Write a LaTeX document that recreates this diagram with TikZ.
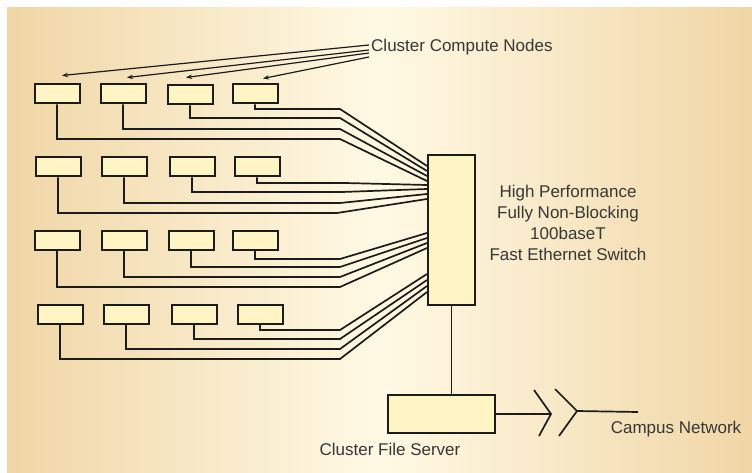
\documentclass[tikz,border=0pt]{standalone}
\usepackage{fontspec}
\setmainfont{Liberation Sans}
\usetikzlibrary{arrows.meta}

\definecolor{bgtan}{RGB}{240,214,166}
\definecolor{bgcream}{RGB}{255,249,228}
\definecolor{boxfill}{RGB}{255,245,196}
\definecolor{boxline}{RGB}{28,28,28}
\definecolor{inkgray}{RGB}{55,55,55}

\begin{document}
\begin{tikzpicture}[x=1pt, y=-1pt,
                    compute node/.style={rectangle,draw=boxline,fill=boxfill,line width=2pt,minimum width=45pt,minimum height=19pt,inner sep=0pt},
                    switch node/.style={compute node,minimum width=47pt,minimum height=150pt},
                    server node/.style={compute node,minimum width=107pt,minimum height=38pt},
                    wire/.style={draw=boxline,line width=1.7pt},
                    pointer/.style={draw=boxline,line width=1.2pt,-{Stealth[length=6pt,width=4.5pt]}},
                    label node/.style={text=inkgray,font=\fontsize{17}{21}\selectfont,inner sep=2pt}]

  \useasboundingbox (0,0) rectangle (752,473);
  \shade[left color=bgtan, right color=bgtan, middle color=bgcream] (7,8) rectangle (752,473);

  % compute nodes, one row after the other
  \node[compute node] (a1) at (57,94) {};
  \node[compute node] (a2) at (123,94) {};
  \node[compute node] (a3) at (190,95) {};
  \node[compute node] (a4) at (255,94) {};

  \node[compute node] (b1) at (58,167) {};
  \node[compute node] (b2) at (124,167) {};
  \node[compute node] (b3) at (192,167) {};
  \node[compute node] (b4) at (257,167) {};

  \node[compute node] (c1) at (57,240) {};
  \node[compute node] (c2) at (124,240) {};
  \node[compute node] (c3) at (191,240) {};
  \node[compute node] (c4) at (255,240) {};

  \node[compute node] (d1) at (60,314) {};
  \node[compute node] (d2) at (126,314) {};
  \node[compute node] (d3) at (194,314) {};
  \node[compute node] (d4) at (260,314) {};

  \node[switch node] (sw) at (451.5,230) {};
  \node[server node] (srv) at (441.5,414) {};

  \path[wire]
    (a4.south) |- (340,109) -- (sw.west |- 0,166)
    (a3.south) |- (340,118) -- (sw.west |- 0,171)
    (a2.south) |- (340,129) -- (sw.west |- 0,176)
    (a1.south) |- (340,139) -- (sw.west |- 0,181)

    (b4.south) |- (345,183) -- (sw.west |- 0,185)
    (b3.south) |- (342,192) -- (sw.west |- 0,189)
    (b2.south) |- (340,203) -- (sw.west |- 0,194)
    (b1.south) |- (337,213) -- (sw.west |- 0,199)

    (c4.south) |- (340,259) -- (sw.west |- 0,233)
    (c3.south) |- (340,267) -- (sw.west |- 0,238)
    (c2.south) |- (340,277) -- (sw.west |- 0,243)
    (c1.south) |- (340,287) -- (sw.west |- 0,248)

    (d4.south) |- (340,330) -- (sw.west |- 0,274)
    (d3.south) |- (340,339) -- (sw.west |- 0,280)
    (d2.south) |- (340,349) -- (sw.west |- 0,286)
    (d1.south) |- (340,359) -- (sw.west |- 0,292);

  \draw[wire] (sw.south) -- (sw.south |- srv.north);

  % link out to the campus network
  \coordinate (gap) at (551,414);
  \coordinate (tip) at (577,411);
  \coordinate (net) at (638,412);
  \draw[wire] (srv.east) -- (gap);
  \draw[wire] (534,390) -- (gap) -- (539,436);
  \draw[wire] (555,389) -- (tip) -- (559,436);
  \draw[wire] (tip) -- (net);

  \node[label node, anchor=west] (cn) at (369,47) {Cluster Compute Nodes};
  \node[label node, align=center] (swl) at (568,223)
      {High Performance\\Fully Non-Blocking\\100baseT\\Fast Ethernet Switch};
  \node[label node] (fs) at (390,449) {Cluster File Server};
  \node[label node] (cam) at (676,429) {Campus Network};

  \draw[pointer] ([yshift=2pt]cn.west) -- ([xshift=5pt,yshift=8pt]a1.north);
  \draw[pointer] ([yshift=-3pt]cn.west) -- ([xshift=4pt,yshift=6pt]a2.north);
  \draw[pointer] ([yshift=-6pt]cn.west) -- ([xshift=-4pt,yshift=7pt]a3.north);
  \draw[pointer] ([yshift=-10pt]cn.west) -- ([xshift=8pt,yshift=5pt]a4.north);

\end{tikzpicture}
\end{document}
